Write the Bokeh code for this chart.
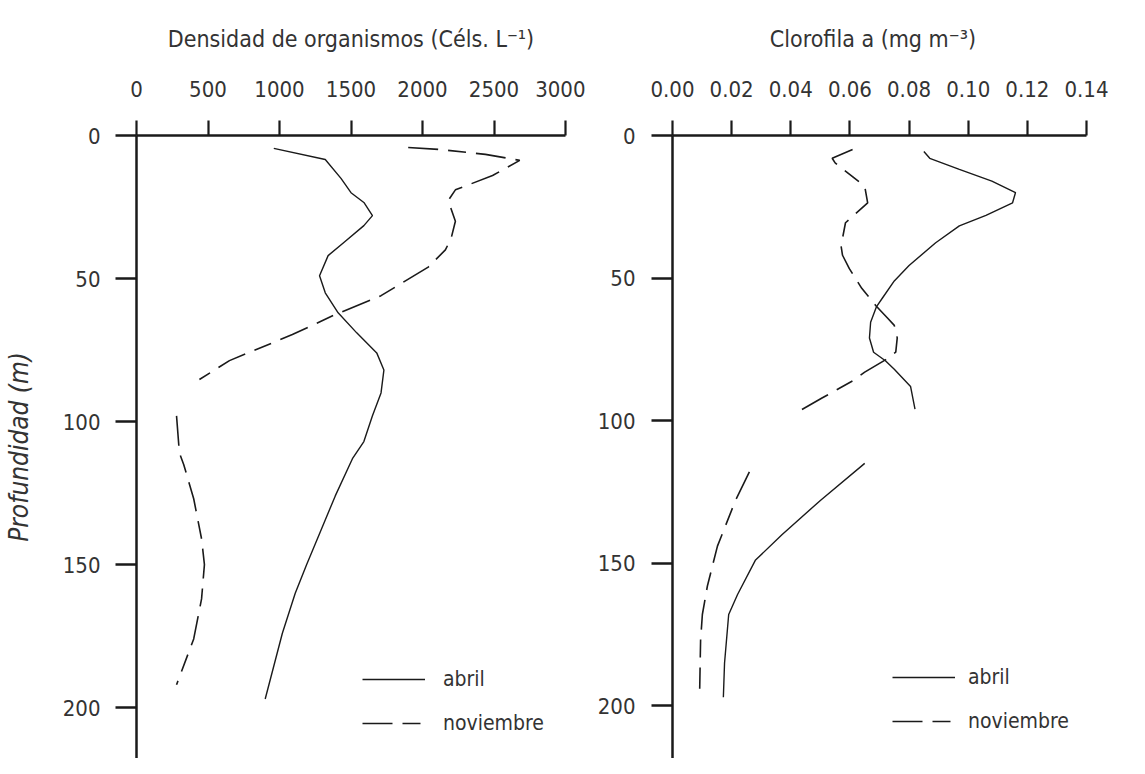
from bokeh.plotting import figure
from bokeh.layouts import row
from bokeh.models import Range1d, FixedTicker, Legend, LegendItem, NumeralTickFormatter
from bokeh.embed import file_html
from bokeh.resources import INLINE

nan = float("nan")

# ---------------- data: left panel (Densidad de organismos) ----------------
dens_abr_depth = [4.5, 8.4, 15, 20, 23.4, 28, 31.5, 37.4, 42, 49, 55, 62, 69, 76, 82, 90, 98, 107,
                  113, 126, 138, 150, 160, 174, 197]
dens_abr = [960, 1320, 1430, 1500, 1590, 1650, 1590, 1450, 1340, 1280, 1320, 1410, 1540, 1680, 1730,
            1710, 1650, 1590, 1510, 1390, 1290, 1190, 1110, 1020, 900]

dens_nov_depth = [4.2, 4.9, 6.6, 8.7, 14, 19, 22.7, 30, 36, 40, 46, 56, 62.6, 69.6, 78.7, 85.3, nan,
                  98, 111, 115, 127, 141, 150, 162, 176, 192]
dens_nov = [1900, 2120, 2440, 2680, 2490, 2230, 2180, 2230, 2200, 2160, 2040, 1710, 1390, 1090, 650,
            440, nan, 280, 300, 330, 400, 455, 475, 455, 400, 280]

# ---------------- data: right panel (Clorofila a) ----------------
chl_abr_depth = [5.6, 8, 11.9, 16, 20, 23.6, 28, 31.7, 37.6, 45.6, 51, 57, 60, 65.5, 71, 76, 79, 82,
                 88, 96, nan, 115, 128, 140, 149, 161, 168, 185, 197]
chl_abr = [0.085, 0.087, 0.097, 0.108, 0.116, 0.115, 0.106, 0.097, 0.089, 0.080, 0.075, 0.071, 0.069,
           0.067, 0.0666, 0.068, 0.072, 0.075, 0.0805, 0.082, nan, 0.065, 0.050, 0.037, 0.028, 0.022,
           0.019, 0.0176, 0.0172]

chl_nov_depth = [4.9, 8, 9.6, 17.8, 23.6, 30.6, 38.7, 42, 46.7, 53.6, 59.6, 64, 66.6, 71, 76, 78.7,
                 83, 86, 92, 97, nan, 118, 128, 144, 158, 168, 177, 194]
chl_nov = [0.0609, 0.054, 0.055, 0.065, 0.066, 0.0585, 0.057, 0.0575, 0.0598, 0.064, 0.0687, 0.0727,
           0.075, 0.076, 0.0755, 0.072, 0.065, 0.061, 0.0507, 0.0423, nan, 0.026, 0.0213, 0.0152,
           0.0118, 0.0101, 0.0095, 0.0092]

dens_ticks = [0, 500, 1000, 1500, 2000, 2500, 3000]
chl_ticks = [0.00, 0.02, 0.04, 0.06, 0.08, 0.10, 0.12, 0.14]
depth_ticks = [0, 50, 100, 150, 200]

series_labels = ["abril", "noviembre"]
title_left = "Densidad de organismos (Céls. L\u207b\u00b9)"
title_right = "Clorofila  a  (mg m\u207b\u00b3)"
ylabel = "Profundidad (m)"

FONT = "DejaVu Sans Condensed, DejaVu Sans, sans-serif"
TXT = "#333333"
INK = "#1a1a1a"
NOV_DASH = "30 10 18 10"


def style(p, xticks, tick_std, ylab_std, title):
    p.outline_line_color = None
    p.xgrid.visible = False
    p.ygrid.visible = False
    p.background_fill_color = "white"
    p.border_fill_color = "white"
    xa = p.xaxis[0]
    xa.ticker = FixedTicker(ticks=xticks)
    xa.major_tick_out = 15
    xa.major_tick_in = 0
    xa.minor_tick_out = 0
    xa.minor_tick_in = 0
    xa.axis_line_width = 2.5
    xa.axis_line_color = INK
    xa.major_tick_line_width = 2.2
    xa.major_tick_line_color = INK
    xa.major_label_text_font = FONT
    xa.major_label_text_font_size = "22px"
    xa.major_label_text_color = TXT
    xa.major_label_standoff = tick_std
    xa.axis_label = title
    xa.axis_label_text_font = FONT
    xa.axis_label_text_font_size = "23px"
    xa.axis_label_text_font_style = "normal"
    xa.axis_label_text_color = TXT
    xa.axis_label_standoff = 26
    ya = p.yaxis[0]
    ya.ticker = FixedTicker(ticks=depth_ticks)
    ya.major_tick_out = 21
    ya.major_tick_in = 0
    ya.minor_tick_out = 0
    ya.minor_tick_in = 0
    ya.axis_line_width = 2.5
    ya.axis_line_color = INK
    ya.major_tick_line_width = 2.5
    ya.major_tick_line_color = INK
    ya.major_label_text_font = FONT
    ya.major_label_text_font_size = "22px"
    ya.major_label_text_color = TXT
    ya.major_label_standoff = ylab_std


def add_legend(p, r1, r2, loc, standoff):
    leg = Legend(items=[LegendItem(label=series_labels[0], renderers=[r1]),
                        LegendItem(label=series_labels[1], renderers=[r2])],
                 location=loc)
    leg.border_line_color = None
    leg.background_fill_alpha = 0
    leg.padding = 0
    leg.margin = 0
    leg.spacing = 14
    leg.glyph_width = 63
    leg.glyph_height = 30
    leg.label_standoff = standoff
    leg.label_text_font = FONT
    leg.label_text_font_size = "21px"
    leg.label_text_color = TXT
    p.add_layout(leg)


# ---------------- left figure ----------------
p1 = figure(width=585, height=758, output_backend="svg", toolbar_location=None,
            x_range=Range1d(0, 3000), y_range=Range1d(217.8, 0),
            x_axis_location="above", min_border_left=131, min_border_right=20,
            min_border_top=135, min_border_bottom=0)
style(p1, dens_ticks, 24, 15, title_left)
ya = p1.yaxis[0]
ya.axis_label = ylabel
ya.axis_label_text_font = FONT
ya.axis_label_text_font_size = "26px"
ya.axis_label_text_font_style = "italic"
ya.axis_label_text_color = TXT
ya.axis_label_standoff = 26
r1 = p1.line(dens_abr, dens_abr_depth, line_color=INK, line_width=1.4)
r2 = p1.line(dens_nov, dens_nov_depth, line_color=INK, line_width=1.6, line_dash=NOV_DASH)
add_legend(p1, r1, r2, (226, 20), 18)

# ---------------- right figure ----------------
p2 = figure(width=544, height=758, output_backend="svg", toolbar_location=None,
            x_range=Range1d(0, 0.14), y_range=Range1d(218.5, 0),
            x_axis_location="above", min_border_left=87, min_border_right=43,
            min_border_top=131, min_border_bottom=0)
style(p2, chl_ticks, 24, 16, title_right)
p2.xaxis[0].formatter = NumeralTickFormatter(format="0.00")
r3 = p2.line(chl_abr, chl_abr_depth, line_color=INK, line_width=1.4)
r4 = p2.line(chl_nov, chl_nov_depth, line_color=INK, line_width=1.6, line_dash=NOV_DASH)
add_legend(p2, r3, r4, (220, 22), 13)

layout = row(p1, p2)
open("out.html", "w").write(file_html(layout, INLINE))
